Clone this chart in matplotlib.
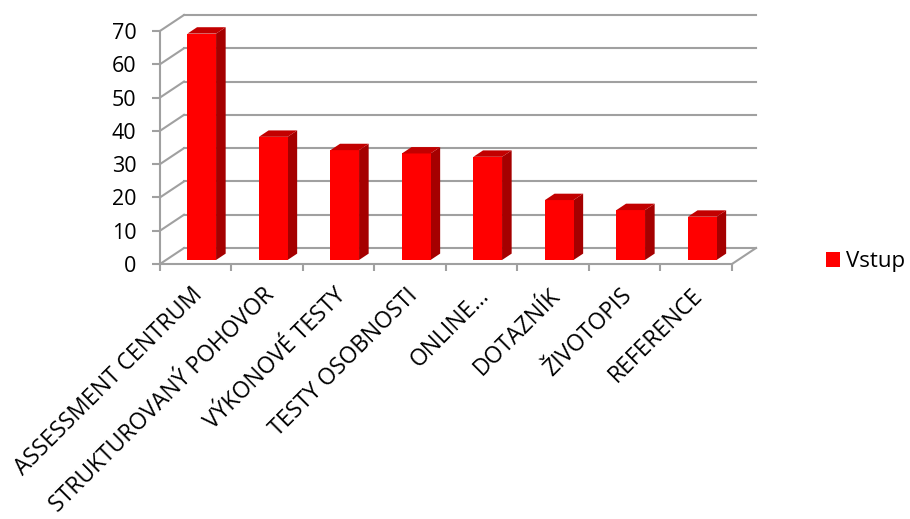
import matplotlib
matplotlib.use('Agg')
import matplotlib.pyplot as plt
import matplotlib.transforms as mtransforms
from matplotlib.patches import Polygon

categories = ["ASSESSMENT CENTRUM", "STRUKTUROVANÝ POHOVOR", "VÝKONOVÉ TESTY",
              "TESTY OSOBNOSTI", "ONLINE…", "DOTAZNÍK", "ŽIVOTOPIS", "REFERENCE"]
values = [68, 37, 33, 32, 31, 18, 15, 13]
series_name = "Vstup"
yticks = [0, 10, 20, 30, 40, 50, 60, 70]

plt.rcParams['font.family'] = ['Open Sans', 'DejaVu Sans']

front_col = "#ff0000"
side_col = "#a50000"
top_col = "#c20000"
grid_col = "#a0a0a0"

# depth of the fake 3d box, in data units
dx = 0.336
dy = 4.8
f0, f1 = 0.25, 0.65   # bar front / back depth fraction
bw = 0.4
n = len(categories)

fig = plt.figure(figsize=(9.1, 5.19), dpi=100)
ax = fig.add_axes([160/910, 1 - 264/519, 596/910, (264 - 14.3)/519])
ax.set_xlim(0, n + dx)
ax.set_ylim(0, 75)

# walls: left diagonals + back gridlines
for v in yticks:
    ax.plot([0, dx], [v, v + dy], color=grid_col, lw=1.5, zorder=1, clip_on=False)
    ax.plot([dx, n + dx], [v + dy, v + dy], color=grid_col, lw=1.5, zorder=1, clip_on=False)
ax.plot([n, n + dx], [0, dy], color=grid_col, lw=1.5, zorder=1, clip_on=False)

# bars
xs = [i + 0.5 + f0 * dx for i in range(n)]
base = f0 * dy
bars = ax.bar(xs, values, width=bw, bottom=base, color=front_col, zorder=3, label=series_name)
ddx = (f1 - f0) * dx
ddy = (f1 - f0) * dy
for x, v in zip(xs, values):
    xl, xr = x - bw / 2, x + bw / 2
    top = base + v
    side = Polygon([(xr, base), (xr + ddx, base + ddy), (xr + ddx, top + ddy), (xr, top)],
                   closed=True, facecolor=side_col, edgecolor='none', zorder=2.9)
    lid = Polygon([(xl, top), (xr, top), (xr + ddx, top + ddy), (xl + ddx, top + ddy)],
                  closed=True, facecolor=top_col, edgecolor='none', zorder=3.1)
    ax.add_patch(side)
    ax.add_patch(lid)

# axes styling
for s in ['top', 'right']:
    ax.spines[s].set_visible(False)
for s in ['left', 'bottom']:
    ax.spines[s].set_color(grid_col)
    ax.spines[s].set_linewidth(1.5)
ax.spines['left'].set_bounds(0, 70)
ax.spines['bottom'].set_bounds(0, n)

ax.set_yticks(yticks)
ax.set_yticklabels([str(t) for t in yticks], fontsize=15.5)
ax.tick_params(axis='y', length=6, width=1.5, color=grid_col, pad=11)

ax.set_xticks(range(n + 1))
ax.set_xticklabels([])
ax.tick_params(axis='x', which='major', length=5, width=1.5, color=grid_col)
ax.set_xticks([i + 0.5 for i in range(n)], minor=True)
ax.set_xticklabels(categories, minor=True, rotation=45, ha='right',
                   rotation_mode='anchor', fontsize=16.5)
ax.tick_params(axis='x', which='minor', length=0, pad=14)
shift = mtransforms.ScaledTranslation(-5/100, 0, fig.dpi_scale_trans)
for lbl in ax.get_xticklabels(minor=True):
    lbl.set_transform(lbl.get_transform() + shift)

fig.legend(handles=[bars], labels=[series_name], loc='center left',
           bbox_to_anchor=(826/910, 1 - 262/519), frameon=False, fontsize=16,
           borderaxespad=0, borderpad=0,
           handlelength=0.63, handleheight=0.63, handletextpad=0.25)

fig.savefig("out.png", dpi=100)
